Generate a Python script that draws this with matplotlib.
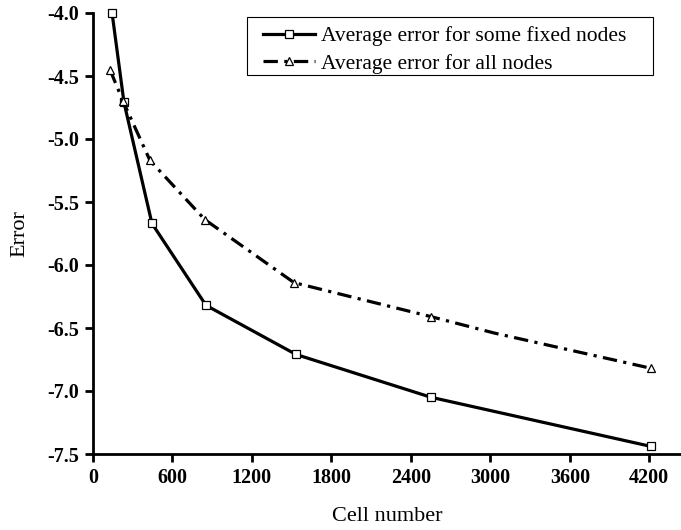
import numpy as np
import matplotlib.pyplot as plt
from matplotlib.patches import Rectangle

# data
cells_fixed = [144, 234, 445, 853, 1533, 2553, 4214]
err_fixed = [-4.00, -4.71, -5.67, -6.32, -6.71, -7.05, -7.44]

# all-nodes curve, one extra vertex near 3030 without marker
cells_all = [128, 227, 430, 845, 1518, 2553, 3030, 4214]
err_all = [-4.45, -4.70, -5.17, -5.64, -6.14, -6.41, -6.54, -6.82]
marked_all = [0, 1, 2, 3, 4, 5, 7]

xticks = [0, 600, 1200, 1800, 2400, 3000, 3600, 4200]
yticks = [-7.5, -7.0, -6.5, -6.0, -5.5, -5.0, -4.5, -4.0]

plt.rcParams['font.family'] = ['Liberation Serif', 'DejaVu Serif']

W, H = 681, 530
fig = plt.figure(figsize=(W/100, H/100), dpi=100)
ax = fig.add_axes([93/W, 1-454/H, 1-93/W, (454-13)/H])

ax.plot(cells_fixed, err_fixed, color='black', lw=2.3, ls='-',
        marker='s', ms=6, mfc='white', mec='black', mew=0.9,
        label='Average error for some fixed nodes', clip_on=False, zorder=3)
ax.plot(cells_all, err_all, color='black', lw=2.3, ls=(0, (4.5, 2, 1, 2)),
        marker='^', ms=6, mfc='white', mec='black', mew=0.9,
        markevery=marked_all,
        label='Average error for all nodes', clip_on=False, zorder=3)

ax.set_xlim(0, 4440)
ax.set_ylim(-7.5, -4.0)
ax.set_xticks(xticks)
ax.set_yticks(yticks)
ax.set_yticklabels(['%.1f' % v for v in yticks])

for side in ['top', 'right']:
    ax.spines[side].set_visible(False)
for side in ['left', 'bottom']:
    ax.spines[side].set_linewidth(2.0)

ax.tick_params(direction='out', length=6, width=2.0, labelsize=14.5, pad=4)
for lab in ax.get_xticklabels() + ax.get_yticklabels():
    lab.set_fontweight('bold')

ax.set_xlabel('Cell number', fontsize=16, labelpad=14)
ax.set_ylabel('Error', fontsize=16, labelpad=13)

# legend without its own frame, box drawn separately (wider side padding)
leg = ax.legend(loc='upper left', bbox_to_anchor=(263/W, 1-26/H),
                bbox_transform=fig.transFigure, borderaxespad=0, borderpad=0,
                fontsize=15.5, handlelength=2.4, handletextpad=0.3,
                labelspacing=0.35, frameon=False)
fig.patches.append(Rectangle((247/W, 1-75/H), (653-247)/W, (75-17)/H,
                             transform=fig.transFigure, fill=False,
                             edgecolor='black', linewidth=0.8))

plt.savefig('out.png', dpi=100)
